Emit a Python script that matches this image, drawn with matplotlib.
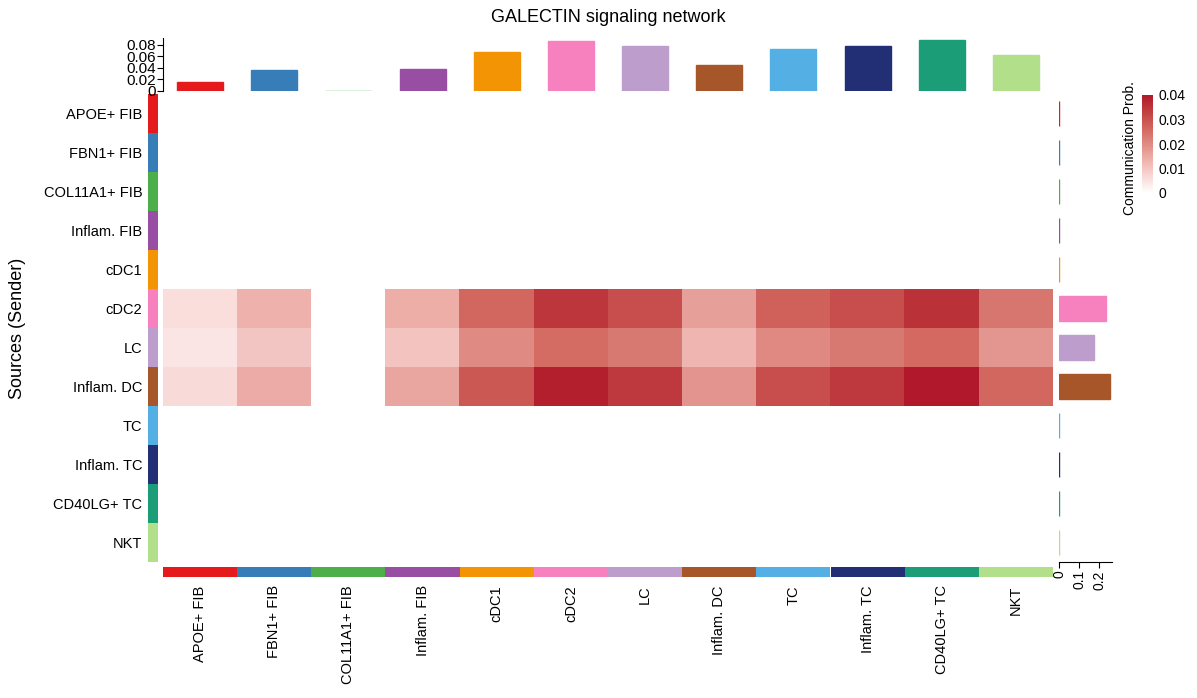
import numpy as np
import matplotlib
matplotlib.use('Agg')
import matplotlib.pyplot as plt
from matplotlib.colors import LinearSegmentedColormap, Normalize

plt.rcParams['font.family'] = ['Liberation Sans', 'DejaVu Sans']

# cell groups (senders = rows, receivers = columns)
groups = ['APOE+ FIB', 'FBN1+ FIB', 'COL11A1+ FIB', 'Inflam. FIB', 'cDC1', 'cDC2',
          'LC', 'Inflam. DC', 'TC', 'Inflam. TC', 'CD40LG+ TC', 'NKT']
group_colors = ['#E41A1C', '#377EB8', '#4DAF4A', '#984EA3', '#F29403', '#F781BF',
                '#BC9DCC', '#A65628', '#54B0E4', '#222F75', '#1B9E77', '#B2DF8A']

# communication probability, only three senders are non-zero
zero_row = [0.0] * 12
cdc2_row = [0.0057, 0.0133, 0.0, 0.0140, 0.0261, 0.0346, 0.0306, 0.0165, 0.0272, 0.0306, 0.0355, 0.0237]
lc_row = [0.0045, 0.0099, 0.0, 0.0102, 0.0199, 0.0253, 0.0230, 0.0128, 0.0203, 0.0230, 0.0258, 0.0182]
infdc_row = [0.0061, 0.0145, 0.0, 0.0156, 0.0286, 0.0386, 0.0341, 0.0184, 0.0305, 0.0341, 0.0400, 0.0261]

prob = np.array([zero_row] * 5 + [cdc2_row, lc_row, infdc_row] + [zero_row] * 4)

# bar annotations
incoming = [0.0147, 0.036, 0.0, 0.0376, 0.0676, 0.087, 0.078, 0.0447, 0.0729, 0.078, 0.0888, 0.0623]
outgoing = [0, 0, 0, 0, 0, 0.235, 0.175, 0.255, 0, 0, 0, 0]

# colour ramp white -> dark red
stops = [(0.0, '#FFFFFF'), (0.0057, '#F9DEDC'), (0.0133, '#EFB2AD'), (0.0230, '#D97A72'),
         (0.0261, '#D36860'), (0.0346, '#BE373C'), (0.040, '#B2182B')]
vmax = 0.04
cmap = LinearSegmentedColormap.from_list('prob', [(v / vmax, c) for v, c in stops])
norm = Normalize(0, vmax)

W, H = 1197, 698
fig = plt.figure(figsize=(W / 100, H / 100), dpi=100)


def box(x0, y0, x1, y1):
    # pixel box -> figure fraction rect
    return [x0 / W, 1 - y1 / H, (x1 - x0) / W, (y1 - y0) / H]


n = len(groups)

# main heatmap
ax = fig.add_axes(box(163, 94, 1053, 562))
ax.imshow(prob, cmap=cmap, norm=norm, aspect='auto', interpolation='nearest',
          extent=(-0.5, n - 0.5, n - 0.5, -0.5))
ax.set_xlim(-0.5, n - 0.5)
ax.set_ylim(n - 0.5, -0.5)
ax.axis('off')

# left colour strip with row names
axl = fig.add_axes(box(148, 94, 158, 562))
for i, c in enumerate(group_colors):
    axl.barh(i, 1, height=1, color=c, linewidth=0)
axl.set_ylim(n - 0.5, -0.5)
axl.set_xlim(0, 1)
axl.set_yticks(range(n))
axl.set_yticklabels(groups, fontsize=10.5)
axl.tick_params(left=False, bottom=False, labelbottom=False, length=0, pad=4)
for s in axl.spines.values():
    s.set_visible(False)

# bottom colour strip with column names
axb = fig.add_axes(box(163, 567, 1053, 577))
for i, c in enumerate(group_colors):
    axb.bar(i, 1, width=1, color=c, linewidth=0)
axb.set_xlim(-0.5, n - 0.5)
axb.set_ylim(0, 1)
axb.set_xticks(range(n))
axb.set_xticklabels(groups, fontsize=10.5, rotation=90)
axb.tick_params(left=False, bottom=False, labelleft=False, length=0, pad=6)
for s in axb.spines.values():
    s.set_visible(False)

# top bars: incoming strength
axt = fig.add_axes(box(163, 38, 1053, 90.5))
axt.bar(range(n), incoming, width=0.62, color=group_colors, edgecolor=group_colors, linewidth=1)
axt.set_xlim(-0.5, n - 0.5)
axt.set_ylim(0, 0.0923)
axt.set_yticks([0, 0.02, 0.04, 0.06, 0.08])
axt.set_yticklabels(['0', '0.02', '0.04', '0.06', '0.08'], fontsize=11)
axt.tick_params(bottom=False, labelbottom=False, length=4, pad=1)
for s in ['top', 'right', 'bottom']:
    axt.spines[s].set_visible(False)

# right bars: outgoing strength
axr = fig.add_axes(box(1059, 94, 1112, 562))
axr.barh(range(n), outgoing, height=0.62, color=group_colors, edgecolor=group_colors, linewidth=1)
axr.set_ylim(n - 0.5, -0.5)
axr.set_xlim(0, 0.265)
axr.set_xticks([0, 0.1, 0.2])
axr.set_xticklabels(['0', '0.1', '0.2'], fontsize=10, rotation=90)
axr.tick_params(left=False, labelleft=False, length=4, pad=2)
for s in ['top', 'right', 'left']:
    axr.spines[s].set_visible(False)

# colour legend
axc = fig.add_axes(box(1142, 95, 1153, 193))
cb = fig.colorbar(plt.cm.ScalarMappable(norm=norm, cmap=cmap), cax=axc)
cb.set_ticks([0, 0.01, 0.02, 0.03, 0.04])
cb.set_ticklabels(['0', '0.01', '0.02', '0.03', '0.04'])
cb.outline.set_visible(False)
axc.tick_params(length=0, labelsize=10, pad=4)
fig.text(1130 / W, 1 - 81 / H, 'Communication Prob.', rotation=90, ha='center', va='top', fontsize=10)

fig.text(608 / W, 1 - 18 / H, 'GALECTIN signaling network', ha='center', va='center', fontsize=13)
fig.text(18 / W, 1 - 328 / H, 'Sources (Sender)', rotation=90, ha='center', va='center', fontsize=13)

fig.savefig('out.png', dpi=100)
